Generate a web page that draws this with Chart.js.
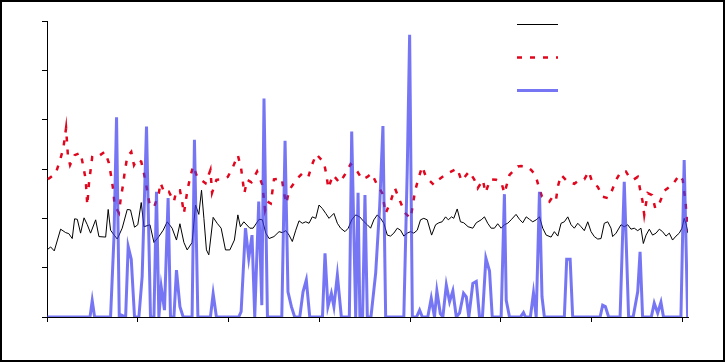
<!DOCTYPE html>
<html>
<head>
<meta charset="utf-8">
<script src="https://cdn.jsdelivr.net/npm/chart.js@4"></script>
<style>
  html, body { margin: 0; padding: 0; background: #fff; }
  #wrap { width: 725px; height: 362px; box-sizing: border-box; border: 2px solid #000; }
  canvas { display: block; }
</style>
</head>
<body>
<div id="wrap"><canvas id="plot" width="721" height="358"></canvas></div>
<script>
// [x, y] pairs
const blackSeries = [
  [0,1.36],[2,1.42],[4,1.34],[7.5,1.78],[10.3,1.71],[12,1.69],[13.9,1.59],[15.2,1.99],[16.7,1.98],[18.5,1.70],
  [20.4,2.01],[22.2,1.87],[24,1.70],[26.8,1.97],[28.6,1.63],[32.3,1.62],[33.7,2.18],[35,1.76],[37,1.66],[38.7,1.58],
  [41.4,1.80],[44.2,2.18],[46,2.17],[48.2,1.82],[50,1.87],[51.9,2.32],[53.4,1.83],[56.7,1.87],[58.9,1.51],[61.6,1.63],
  [64,1.76],[66.2,1.93],[68.9,1.80],[71.3,1.56],[73.2,1.89],[75.4,1.51],[77.2,1.36],[79.9,1.51],[81.8,2.27],[83.6,2.08],
  [85.1,2.57],[86.4,2.00],[87.8,1.36],[89.1,1.26],[91.5,2.02],[93.7,1.90],[95.9,1.80],[98.3,1.36],[100.7,1.36],[103.2,1.56],
  [105.1,2.07],[106.5,1.83],[108.4,1.93],[111.7,1.80],[113.5,1.80],[116.8,1.98],[118.6,1.97],[120.5,1.70],[122.3,1.59],[125,1.63],
  [127.8,1.73],[129.6,1.71],[131.5,1.75],[133.3,1.66],[135.1,1.53],[137,1.76],[138.8,1.95],[140.6,1.90],[142.5,1.93],[144.3,1.90],
  [146.1,2.03],[148,2.00],[149.8,2.27],[151.6,2.20],[153.5,2.10],[155.3,2.00],[158,2.10],[159.9,1.90],[161.7,1.80],[164.1,1.73],
  [165.9,1.80],[167.8,1.97],[170,2.07],[172.2,2.03],[174.6,1.93],[176.4,1.87],[178.2,1.80],[180,1.97],[181.9,2.07],[183.7,2.00],
  [185.5,1.90],[187.4,1.66],[189.2,1.64],[191,1.70],[192.9,1.80],[194.7,1.76],[196.5,1.64],[198.4,1.70],[200.2,1.73],[202,1.70],
  [203.9,1.76],[205.7,1.97],[207.5,2.00],[209.4,1.97],[211.8,1.66],[214,1.87],[215.8,1.91],[217.6,1.93],[219.5,2.03],[221,1.97],
  [222.8,2.03],[224,2.00],[225.9,2.19],[227.7,1.93],[229.5,1.91],[231.9,1.83],[234.5,1.80],[236.4,1.91],[239.1,1.97],[240.9,2.03],
  [242.7,1.90],[244.6,1.80],[246.4,1.80],[248.2,1.89],[250.1,1.80],[251.9,1.87],[253.7,1.90],[255.6,1.97],[258.3,2.08],[260.2,1.98],
  [262,1.91],[263.9,2.03],[265.7,1.98],[267.5,1.93],[269.4,1.97],[271.2,2.03],[273,1.80],[274.9,1.66],[277.6,1.62],[279.4,1.73],
  [281.3,1.64],[283.1,1.90],[284.9,1.93],[286.8,2.03],[288.6,1.87],[290.4,1.80],[292.3,1.90],[294.1,1.83],[295.9,1.75],[297.8,1.93],
  [299.6,1.73],[301.4,1.63],[303.3,1.58],[305.1,1.59],[306.9,1.90],[308.8,1.93],[310.6,1.80],[311.5,1.63],[313.4,1.70],[316.1,1.87],
  [317.9,1.83],[319.8,1.87],[321.6,1.78],[323.4,1.80],[325.3,1.75],[327.1,1.80],[328.4,1.49],[329.9,1.66],[331.7,1.78],[333.5,1.66],
  [335.4,1.70],[337.2,1.78],[339,1.73],[340.9,1.64],[342.7,1.70],[344.5,1.56],[346.4,1.64],[348.2,1.70],[349.7,1.80],[350.9,2.00],
  [351.9,1.89],[353,1.70]
];

const redSeries = [
  [0.5,2.79],[4.8,2.91],[7.2,3.18],[9,3.42],[10.5,3.83],[11.5,3.28],[12.7,3.08],[15.2,3.28],[18.5,3.33],[20,3.05],
  [21.3,2.79],[22.2,2.27],[23.1,2.71],[24.9,3.24],[26.8,3.22],[31.9,3.35],[34.1,3.12],[35.4,2.84],[36.5,2.57],[37.2,2.27],
  [39.6,2.11],[40.5,2.37],[42,2.71],[42.7,2.91],[44.2,3.25],[46.4,3.35],[47.9,3.08],[49.7,3.20],[51.9,3.15],[53.4,2.91],
  [54.8,2.64],[56.7,2.24],[59.2,2.25],[61.6,2.51],[62.5,2.72],[64.7,2.51],[67.1,2.54],[69.9,2.34],[71.3,2.57],[73.2,2.57],
  [74.4,2.34],[75.4,2.10],[77.2,2.54],[78.7,2.81],[80.5,3.06],[82.7,2.84],[87.3,2.71],[90,2.98],[90.9,2.52],[93.3,2.78],
  [96.4,2.79],[99.6,2.84],[102.5,3.05],[105.1,3.28],[106.9,3.01],[108.7,2.51],[110.2,2.78],[112.6,2.73],[115.7,2.95],[118.6,2.68],
  [120.1,2.17],[121.4,2.34],[123.2,2.30],[124.1,2.54],[125,2.79],[129.3,2.81],[130.5,2.52],[131.8,2.30],[133.3,2.57],[137.9,2.81],
  [140.6,2.91],[143.9,2.84],[146.1,3.10],[148.3,3.30],[152.5,3.13],[153.9,2.88],[154.9,2.61],[157.5,2.88],[161.2,2.72],[164.1,2.89],
  [167.2,3.10],[170.9,2.95],[173.6,2.79],[176.4,2.84],[178.8,2.91],[181.4,2.71],[184.6,2.51],[186.5,2.10],[189.2,2.34],[191.6,2.61],
  [194.2,2.37],[197.1,2.11],[200.2,2.00],[201.5,2.27],[202.6,2.54],[204.4,2.79],[206.6,3.05],[208.8,2.83],[213,2.68],[215.8,2.79],
  [220.4,2.91],[225.9,3.01],[228.3,2.76],[232.5,2.95],[235.4,2.78],[237.2,2.61],[240,2.78],[241.5,2.52],[244.1,2.79],[247.4,2.78],
  [250.1,2.74],[251.9,2.51],[254.7,2.88],[259.3,3.05],[261.1,3.06],[264.2,3.05],[266.6,2.98],[269,2.88],[270.8,2.64],[272.6,2.44],
  [274.5,2.41],[276.7,2.34],[278.5,2.44],[280.3,2.37],[281.3,2.64],[283.1,2.88],[286.8,2.74],[290.4,2.70],[293.2,2.78],[295.9,2.79],
  [298.3,2.95],[300.5,2.71],[303.3,2.64],[306,2.44],[308.8,2.41],[311.2,2.57],[313.4,2.78],[316.1,2.95],[318.8,2.95],[320.6,2.84],
  [322.8,2.78],[325.3,2.84],[326.6,2.59],[328,2.34],[328.9,2.07],[330.8,2.51],[333.2,2.47],[335,2.20],[337.2,2.30],[340,2.56],
  [344.5,2.68],[348.2,2.88],[350.1,2.78],[351.6,2.34],[353,1.75]
];

const blueSeries = [
  [0,0],[23.7,0],[24.9,0.33],[26.2,0],[35,0],[36.9,1.63],[38.3,4.05],[39.8,0],[40.9,0.04],[43.3,0],
  [44.7,1.43],[46.4,1.17],[48.2,0],[50.6,0],[52.4,0.82],[54.8,3.86],[57,0],[58.9,0],[60.3,2.54],[61.6,0],
  [62.9,0.61],[64.7,0.14],[66.7,2.41],[68,0],[69.9,0],[71.3,0.95],[73.2,0.21],[75,0],[79.9,0],[81.2,3.59],
  [83.1,0],[90,0],[91.5,0.47],[93.3,0],[105.6,0],[106.9,0.11],[109.3,1.80],[111.1,1.19],[112.9,1.66],[114.4,0],
  [116.6,2.34],[118.3,0.24],[119.5,4.43],[121.4,0],[129.3,0],[131.1,3.57],[132.7,0.51],[134.6,0.21],[136.4,0],[139.2,0],
  [141,0.51],[142.8,0.75],[144.7,0],[151.7,0],[153.1,1.29],[154.7,0.21],[156.6,0.48],[158,0.21],[159.9,0.85],[162.1,0],
  [166.5,0],[167.8,3.76],[170,0],[171.3,2.52],[172.3,0],[173.8,0],[175.1,2.47],[176.4,0],[178.4,0],[181,0.89],
  [183.2,2.24],[185,3.87],[186.5,0],[196.5,0],[198.4,3.0],[199.7,5.72],[201.2,0],[203.5,0],[205.2,0.14],[206.7,0],
  [209.7,0],[211.6,0.38],[213.4,0],[214.7,0.53],[216.6,0.07],[218,0],[219.9,0.65],[221.7,0.31],[223.5,0.53],[225.4,0],
  [227.2,0.08],[229.4,0.48],[230.9,0.41],[232.3,0],[234.5,0.68],[236.4,0.72],[238.2,0],[239.8,0],[241.7,1.19],[243.7,0.93],
  [245.2,0],[250.1,0],[251.9,2.49],[252.9,0.34],[254.7,0],[260.7,0],[262.4,0.09],[263.5,0],[266.2,0],[267.9,0.49],
  [269.4,0],[271.2,2.54],[272.6,0.41],[273.9,0],[284.9,0],[286.2,1.17],[288.1,1.17],[289.5,0],[304.6,0],[306,0.24],
  [307.5,0.21],[309.3,0],[315.6,0],[317.9,2.74],[320.3,0],[322.8,0],[325.3,0.51],[326.6,1.32],[328,0],[332.8,0],
  [334.4,0.28],[336.3,0.08],[338.1,0.30],[339.5,0],[349.1,0],[350.9,3.18],[352.8,0]
];

const seriesNames = ['Series 1', 'Series 2', 'Series 3'];
const xTickStep = 50;
const yTickStep = 1;

const toPoints = arr => arr.map(p => ({ x: p[0], y: p[1] }));

// legend drawn as short line samples in the top right of the plot
const lineKey = {
  id: 'lineKey',
  afterDraw(chart) {
    const { ctx, chartArea } = chart;
    const x0 = chartArea.right - 171;
    chart.data.datasets.forEach((ds, i) => {
      const y = chartArea.top + 3.5 + i * 33;
      ctx.save();
      ctx.strokeStyle = ds.borderColor;
      ctx.lineWidth = ds.borderWidth;
      ctx.setLineDash(ds.borderDash || []);
      ctx.beginPath();
      ctx.moveTo(x0, y);
      ctx.lineTo(x0 + 41, y);
      ctx.stroke();
      ctx.fillStyle = '#fff';
      ctx.font = '10px "DejaVu Sans"';
      ctx.textBaseline = 'middle';
      ctx.fillText(ds.label, x0 + 48, y);
      ctx.restore();
    });
  }
};

const ctx = document.getElementById('plot').getContext('2d');
new Chart(ctx, {
  type: 'line',
  data: {
    datasets: [
      {
        label: seriesNames[0],
        data: toPoints(blackSeries),
        borderColor: '#000000',
        borderWidth: 1,
        pointRadius: 0,
        order: 2
      },
      {
        label: seriesNames[1],
        data: toPoints(redSeries),
        borderColor: '#e0061e',
        borderWidth: 2.5,
        borderDash: [5, 8],
        pointRadius: 0,
        order: 1
      },
      {
        label: seriesNames[2],
        data: toPoints(blueSeries),
        borderColor: 'rgba(60,60,240,0.7)',
        borderWidth: 3,
        pointRadius: 0,
        order: 0
      }
    ]
  },
  plugins: [lineKey],
  options: {
    responsive: false,
    animation: false,
    layout: { padding: { top: 19, right: 35, left: 0, bottom: 0 } },
    plugins: {
      legend: { display: false },
      tooltip: { enabled: false }
    },
    scales: {
      x: {
        type: 'linear',
        min: 0,
        max: 353,
        border: { display: true, color: '#000', width: 1 },
        grid: { drawOnChartArea: false, drawTicks: true, tickLength: 5, color: '#000' },
        ticks: { stepSize: xTickStep, includeBounds: false, color: '#fff', font: { size: 10 }, maxRotation: 0 },
        afterFit: s => { s.height = 43; }
      },
      y: {
        min: 0,
        max: 6,
        border: { display: true, color: '#000', width: 1 },
        grid: { drawOnChartArea: false, drawTicks: true, tickLength: 5, color: '#000' },
        ticks: { stepSize: yTickStep, color: '#fff', font: { size: 10 } },
        afterFit: s => { s.width = 45; }
      }
    }
  }
});
</script>
</body>
</html>
